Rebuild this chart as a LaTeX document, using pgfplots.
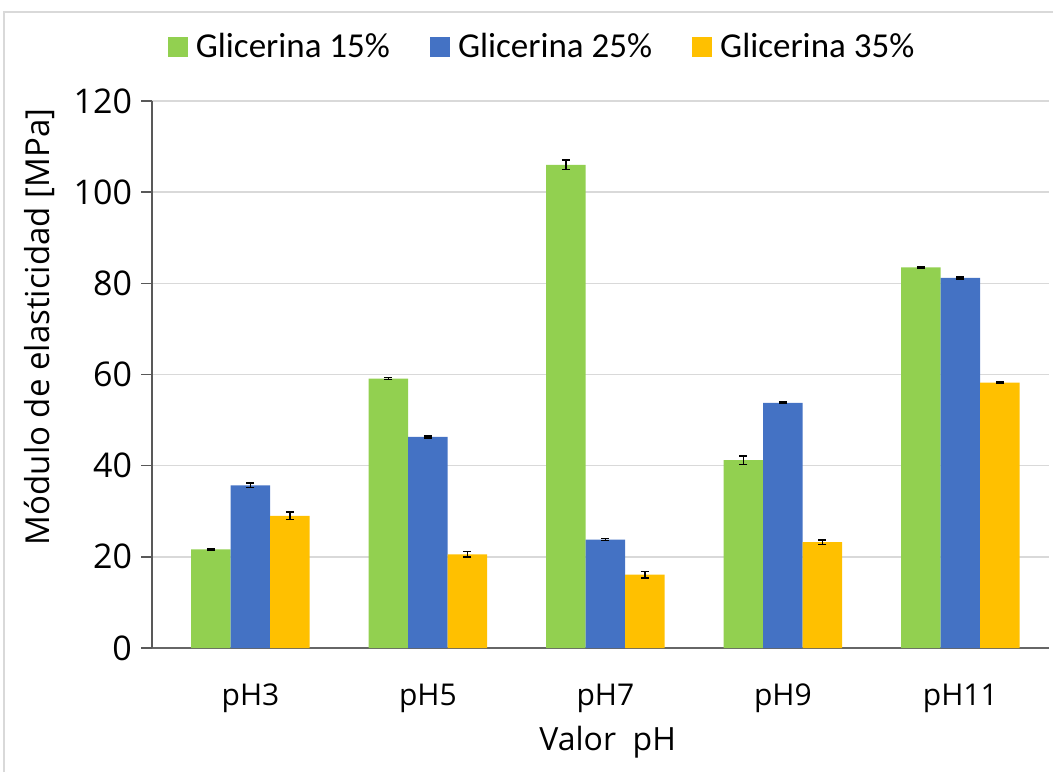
\documentclass[border=0pt]{standalone}
\usepackage{pgfplots}
\pgfplotsset{compat=1.18}
\usepackage{fontspec}
\setmainfont{Open Sans}
\newfontfamily\carlito{Carlito}
\definecolor{cgreen}{HTML}{92D050}
\definecolor{cblue}{HTML}{4472C4}
\definecolor{cyellow}{HTML}{FFC000}
\definecolor{cgrid}{HTML}{D9D9D9}
\definecolor{caxis}{HTML}{595959}
\begin{document}
\begin{tikzpicture}
\path[use as bounding box] (0,0) rectangle (526.5pt,386pt);
\draw[cgrid, line width=0.6pt] (2pt,0pt) -- (2pt,380pt) -- (526.5pt,380pt);
\begin{axis}[
  at={(76pt,62pt)}, anchor=south west,
  scale only axis,
  width=448.5pt, height=273.5pt,
  ybar=0pt, bar width=19.75pt,
  xmin=-0.555, xmax=4.5,
  ymin=0, ymax=120,
  ytick={0,20,...,120},
  xtick={0,1,2,3,4},
  xticklabels={pH3,pH5,pH7,pH9,pH11},
  major x tick style={draw=none},
  axis x line*=bottom, axis y line*=left,
  x axis line style={draw=gray!80!black, line width=0.6pt, -},
  y axis line style={draw=caxis, line width=0.8pt, -},
  ytick style={draw=caxis, line width=0.8pt},
  tick align=outside, major tick length=5.5pt,
  ymajorgrids, grid style={cgrid, line width=0.8pt},
  /pgf/number format/assume math mode=true,
  yticklabel style={font=\fontsize{17}{20}\selectfont, xshift=-1pt},
  xticklabel style={font=\fontsize{15}{18}\selectfont, yshift=-9pt},
  xlabel={Valor\ \ pH},
  ylabel={Módulo de elasticidad [MPa]},
  xlabel style={font=\fontsize{16}{19}\selectfont, at={(axis description cs:0.508,-0.1718)}, anchor=center},
  ylabel style={font=\fontsize{16.5}{19}\selectfont, at={(axis description cs:-0.125,0.587)}, anchor=center},
  legend columns=3,
  legend style={at={(axis description cs:0.436,1.0987)}, anchor=center, draw=none, fill=none,
    font=\carlito\fontsize{17.5}{20}\selectfont, /tikz/every even column/.append style={column sep=18pt}},
  legend image code/.code={\fill[#1] (0pt,-5pt) rectangle (10pt,5pt); \path (12pt,0pt);},
  error bars/error bar style={black, line width=0.8pt},
  error bars/error mark options={rotate=90, mark size=2pt, line width=0.8pt, black},
]
\addplot[fill=cgreen, draw=none, error bars/.cd, y dir=both, y explicit] coordinates {
  (0,21.65) +- (0,0.2) (1,59.1) +- (0,0.2) (2,106.0) +- (0,1.0) (3,41.2) +- (0,0.9) (4,83.5) +- (0,0.2)};
\addplot[fill=cblue, draw=none, error bars/.cd, y dir=both, y explicit] coordinates {
  (0,35.7) +- (0,0.5) (1,46.3) +- (0,0.2) (2,23.8) +- (0,0.2) (3,53.8) +- (0,0.2) (4,81.2) +- (0,0.2)};
\addplot[fill=cyellow, draw=none, error bars/.cd, y dir=both, y explicit] coordinates {
  (0,29.0) +- (0,0.85) (1,20.55) +- (0,0.6) (2,16.1) +- (0,0.7) (3,23.25) +- (0,0.5) (4,58.2) +- (0,0.2)};
\legend{Glicerina 15\%, Glicerina 25\%, Glicerina 35\%}
\end{axis}
\end{tikzpicture}
\end{document}
